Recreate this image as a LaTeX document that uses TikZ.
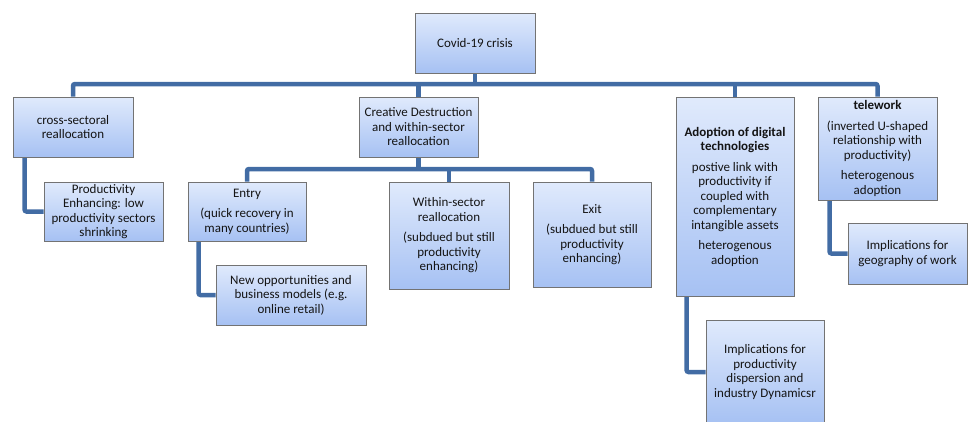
\documentclass[tikz,border=0pt]{standalone}
\usepackage{fontspec}
\setmainfont{Carlito}
\usetikzlibrary{shadows,backgrounds}
\definecolor{linkc}{RGB}{66,108,164}
\definecolor{topc}{RGB}{224,234,252}
\definecolor{botc}{RGB}{166,193,243}
\definecolor{bordc}{RGB}{115,115,115}
\definecolor{txtc}{RGB}{20,20,20}
\tikzset{
  box/.style={draw=bordc, line width=0.9pt, top color=topc, bottom color=botc,
    rectangle, align=center, inner sep=1pt, text=txtc,
    font=\fontsize{13}{14.5}\selectfont,
    drop shadow={shadow xshift=1.2pt, shadow yshift=-1.2pt, opacity=0.35, fill=black}},
  link/.style={draw=linkc, line width=4.5pt, rounded corners=2pt, line cap=butt}
}
\begin{document}
\begin{tikzpicture}[x=1pt,y=-1pt]
\useasboundingbox (0,0) rectangle (971,421);
\node[box, minimum width=120pt, minimum height=60pt] (covid) at (475,43) {Covid-19 crisis};
\node[box, minimum width=120pt, minimum height=60pt] (cross) at (73,127) {cross-sectoral\\reallocation};
\node[box, minimum width=119pt, minimum height=60pt] (creative) at (418.5,127) {Creative Destruction\\and within-sector\\reallocation};
\node[box, minimum width=118pt, minimum height=199pt] (adopt) at (735,196.5) {\textbf{Adoption of digital}\\\textbf{technologies}\\[6pt]postive link with\\productivity if\\coupled with\\complementary\\intangible assets\\[6pt]heterogenous\\adoption};
\node[box, minimum width=119pt, minimum height=103pt] (tele) at (877.5,148.5) {\textbf{telework}\\[6pt](inverted U-shaped\\relationship with\\productivity)\\[6pt]heterogenous\\adoption};
\node[box, minimum width=119pt, minimum height=59pt] (prodenh) at (103.5,211.5) {Productivity\\Enhancing: low\\productivity sectors\\shrinking};
\node[box, minimum width=118pt, minimum height=59pt] (entry) at (247,211.5) {Entry\\[6pt](quick recovery in\\many countries)};
\node[box, minimum width=120pt, minimum height=107pt] (within) at (449,235.5) {Within-sector\\reallocation\\[6pt](subdued but still\\productivity\\enhancing)};
\node[box, minimum width=118pt, minimum height=105pt] (exit) at (592,234.5) {Exit\\[6pt](subdued but still\\productivity\\enhancing)};
\node[box, minimum width=150pt, minimum height=60pt] (newopp) at (291,295) {New opportunities and\\business models (e.g.\\online retail)};
\node[box, minimum width=118pt, minimum height=104pt] (implprod) at (765,372) {Implications for\\productivity\\dispersion and\\industry Dynamicsr};
\node[box, minimum width=119pt, minimum height=61pt] (geo) at (907.5,253.5) {Implications for\\geography of work};
\coordinate (bar) at (0,84);
\coordinate (bar2) at (0,169);
\begin{scope}[on background layer]
\draw[link] (covid.south) -- (covid.south |- bar);
\draw[link] (cross.north) |- (bar -| tele.north) -- (tele.north);
\draw[link] (creative.north) -- (creative.north |- bar);
\draw[link] (adopt.north) -- (adopt.north |- bar);
\draw[link] (creative.south) -- (creative.south |- bar2);
\draw[link] (entry.north) |- (bar2 -| exit.north) -- (exit.north);
\draw[link] (within.north) -- (within.north |- bar2);
\draw[link] ([xshift=12pt]cross.south west) |- (prodenh.west);
\draw[link] ([xshift=11pt]entry.south west) |- (newopp.west);
\draw[link] ([xshift=11pt]adopt.south west) |- (implprod.west);
\draw[link] ([xshift=12pt]tele.south west) |- (geo.west);
\end{scope}
\end{tikzpicture}
\end{document}
